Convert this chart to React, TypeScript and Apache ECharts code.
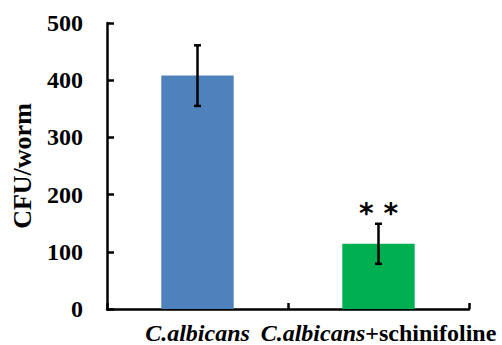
import React, { useEffect, useRef } from "react";
import * as echarts from "echarts";

const categories = ["C.albicans", "C.albicans+schinifoline"];
const means = [408, 114];
const errors = [53, 35];
const significance = ["", "* *"];
const barColors = ["#4f81bd", "#00b050"];
const yTicks = { min: 0, max: 500, interval: 100 };
const yName = "CFU/worm";

export default function App() {
  const ref = useRef<HTMLDivElement>(null);
  useEffect(() => {
    if (!ref.current) return;
    const chart = echarts.init(ref.current, undefined, { renderer: "svg" });
    const font = "'Liberation Serif', 'Times New Roman', serif";
    chart.setOption({
      animation: false,
      backgroundColor: "#ffffff",
      grid: { left: 107, right: 33, top: 23, bottom: 36, containLabel: false, outerBoundsMode: "none" },
      xAxis: {
        type: "category",
        data: categories,
        axisLine: { lineStyle: { color: "#000", width: 2.5 } },
        axisTick: { show: true, inside: true, length: 6, lineStyle: { color: "#000", width: 2.5 } },
        axisLabel: {
          interval: 0,
          hideOverlap: false,
          margin: 13,
          color: "#000",
          fontFamily: font,
          lineHeight: 21,
          formatter: (v: string) => {
            const idx = v.indexOf("+");
            if (idx < 0) return "{i|" + v + "}";
            return "{i|" + v.slice(0, idx) + "}{n|" + v.slice(idx) + "}";
          },
          rich: {
            i: { fontFamily: font, fontSize: 24, lineHeight: 21, fontWeight: "bold", fontStyle: "italic", color: "#000" },
            n: { fontFamily: font, fontSize: 24, lineHeight: 21, fontWeight: "bold", color: "#000" },
          },
        },
      },
      yAxis: {
        type: "value",
        min: yTicks.min,
        max: yTicks.max,
        interval: yTicks.interval,
        name: yName,
        nameLocation: "middle",
        nameGap: 72,
        nameTextStyle: { fontFamily: font, fontSize: 26, fontWeight: "bold", color: "#000" },
        splitLine: { show: false },
        axisLine: { show: true, lineStyle: { color: "#000", width: 2.5 } },
        axisTick: { show: true, inside: true, length: 7, lineStyle: { color: "#000", width: 2.5 } },
        axisLabel: { margin: 24, color: "#000", fontFamily: font, fontSize: 24, fontWeight: "bold" },
      },
      series: [
        {
          type: "bar",
          data: means.map((v, i) => ({ value: v, itemStyle: { color: barColors[i] } })),
          barCategoryGap: "60%",
        },
        {
          type: "custom",
          data: means.map((m, i) => [i, m - errors[i], m + errors[i]]),
          z: 10,
          renderItem: (params: any, api: any) => {
            const i = api.value(0);
            const lo = api.coord([i, api.value(1)]);
            const hi = api.coord([i, api.value(2)]);
            const cap = 3.5;
            const style = { stroke: "#000", lineWidth: 2.5 };
            const children: any[] = [
              { type: "line", shape: { x1: hi[0], y1: hi[1], x2: lo[0], y2: lo[1] }, style },
              { type: "line", shape: { x1: hi[0] - cap, y1: hi[1], x2: hi[0] + cap, y2: hi[1] }, style },
              { type: "line", shape: { x1: lo[0] - cap, y1: lo[1], x2: lo[0] + cap, y2: lo[1] }, style },
            ];
            const sig = significance[params.dataIndex];
            if (sig) {
              children.push({
                type: "text",
                x: hi[0],
                y: hi[1] - 10,
                style: {
                  text: sig,
                  textAlign: "center",
                  textVerticalAlign: "middle",
                  fontFamily: "'DejaVu Sans', sans-serif",
                  fontSize: 28,
                  fontWeight: "bold",
                  fill: "#000",
                },
              });
            }
            return { type: "group", children };
          },
        },
      ],
    });
    return () => chart.dispose();
  }, []);
  return <div ref={ref} style={{ width: 502, height: 345, position: "absolute", left: 0, top: 0 }} />;
}
